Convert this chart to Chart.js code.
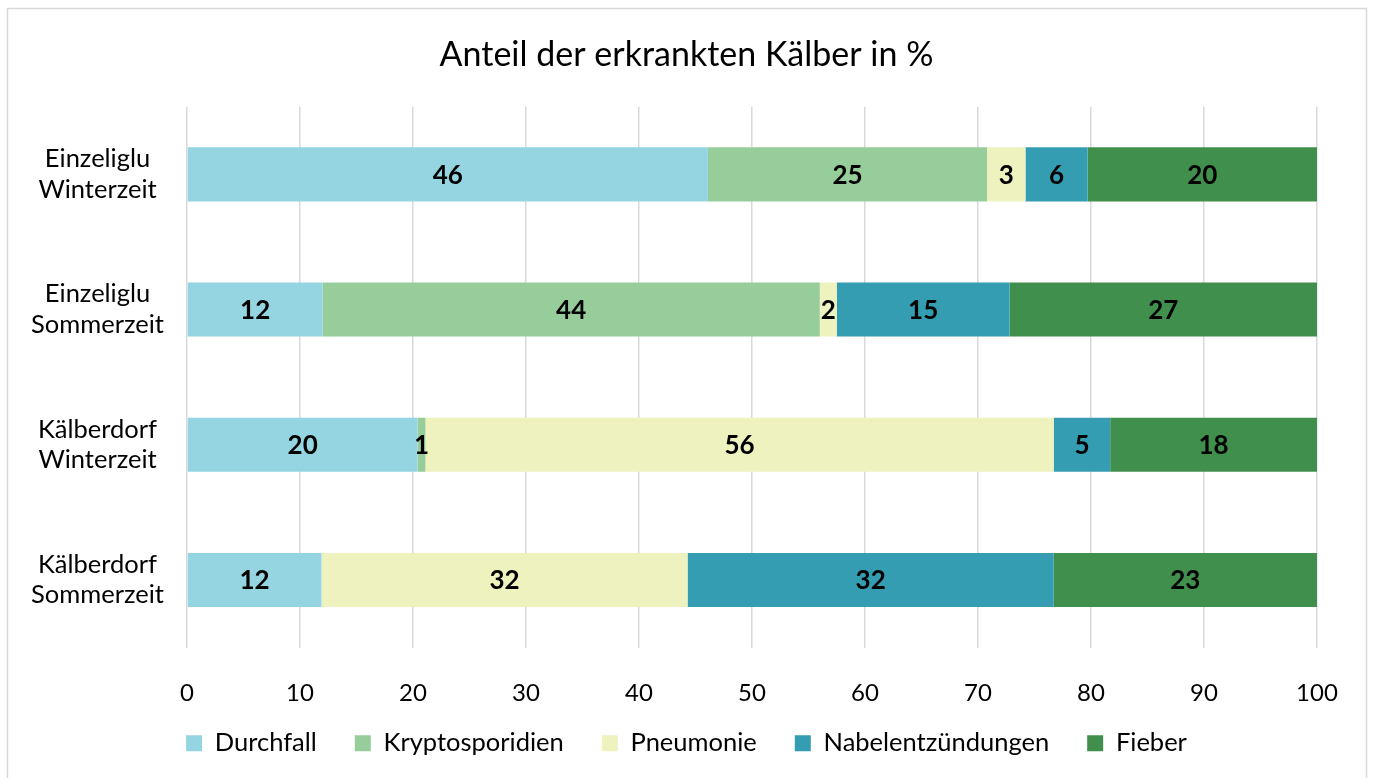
<!DOCTYPE html>
<html>
<head>
<meta charset="utf-8">
<script src="https://cdn.jsdelivr.net/npm/chart.js@4"></script>
<style>
  html, body { margin: 0; padding: 0; background: #fff; }
  #wrap { width: 1373px; height: 778px; position: relative; }
</style>
</head>
<body>
<div id="wrap"><canvas id="kaelberChart" width="1373" height="778"></canvas></div>
<script>
const categories = [
  ['Einzeliglu', 'Winterzeit'],
  ['Einzeliglu', 'Sommerzeit'],
  ['Kälberdorf', 'Winterzeit'],
  ['Kälberdorf', 'Sommerzeit']
];
const seriesNames = ['Durchfall', 'Kryptosporidien', 'Pneumonie', 'Nabelentzündungen', 'Fieber'];
const durchfall = [46.1, 12.0, 20.4, 11.9];
const kryptosporidien = [24.7, 44.0, 0.7, 0];
const pneumonie = [3.4, 1.5, 55.6, 32.4];
const nabelentzuendungen = [5.5, 15.3, 5.0, 32.4];
const fieber = [20.3, 27.2, 18.3, 23.3];
const xTicks = [0, 10, 20, 30, 40, 50, 60, 70, 80, 90, 100];

const seriesValues = [durchfall, kryptosporidien, pneumonie, nabelentzuendungen, fieber];
const seriesColors = ['#95d5e1', '#96cd9a', '#edf2bf', '#349db2', '#418f4d'];
const fontFamily = 'Lato, "Open Sans", sans-serif';

// draws the rounded numbers in the middle of each segment
const barLabels = {
  id: 'barLabels',
  afterDatasetsDraw(chart) {
    const ctx = chart.ctx;
    ctx.save();
    ctx.font = 'bold 26px ' + fontFamily;
    ctx.fillStyle = '#000';
    ctx.textAlign = 'center';
    ctx.textBaseline = 'middle';
    chart.data.datasets.forEach((ds, i) => {
      const meta = chart.getDatasetMeta(i);
      meta.data.forEach((bar, j) => {
        const v = ds.data[j];
        if (!v) return;
        const p = bar.getCenterPoint();
        ctx.fillText(String(Math.round(v)), p.x, p.y + 1);
      });
    });
    ctx.restore();
  }
};

// outer grey frame like the office chart border
const frame = {
  id: 'frame',
  beforeDraw(chart) {
    const ctx = chart.ctx;
    ctx.save();
    ctx.fillStyle = '#fff';
    ctx.fillRect(0, 0, chart.width, chart.height);
    ctx.strokeStyle = '#d9d9d9';
    ctx.lineWidth = 1.5;
    ctx.strokeRect(7.5, 8.5, 1359, 790);
    ctx.restore();
  }
};

// pull the legend up a bit, it sits closer to the tick labels in the original
const legendNudge = {
  id: 'legendNudge',
  afterLayout(chart) {
    chart.legend.top -= 17;
    chart.legend.bottom -= 17;
  }
};

new Chart(document.getElementById('kaelberChart'), {
  type: 'bar',
  data: {
    labels: categories,
    datasets: seriesNames.map((name, i) => ({
      label: name,
      data: seriesValues[i],
      backgroundColor: seriesColors[i],
      borderWidth: 0,
      categoryPercentage: 1,
      barPercentage: 0.4
    }))
  },
  options: {
    indexAxis: 'y',
    responsive: false,
    animation: false,
    layout: { padding: { left: 0, right: 0, top: 0, bottom: -5 } },
    scales: {
      x: {
        stacked: true,
        min: 0,
        max: 100,
        afterBuildTicks(scale) { scale.ticks = xTicks.map(v => ({ value: v })); },
        afterFit(scale) { scale.height = 62; },
        grid: { color: '#d9d9d9', lineWidth: 1.5, drawTicks: false },
        border: { display: false },
        ticks: { color: '#000', padding: 31, font: { family: fontFamily, size: 24 } }
      },
      y: {
        stacked: true,
        grid: { display: false },
        border: { display: false },
        afterFit(scale) { scale.width = 187; },
        ticks: { color: '#000', padding: 15, crossAlign: 'center', font: { family: fontFamily, size: 25.5, lineHeight: 1.2 } }
      },
      yRight: {
        type: 'category',
        position: 'right',
        grid: { display: false },
        border: { display: false },
        ticks: { display: false },
        afterFit(scale) { scale.width = 56; }
      }
    },
    plugins: {
      title: {
        display: true,
        text: 'Anteil der erkrankten Kälber in %',
        color: '#000',
        font: { family: fontFamily, size: 34, weight: 'normal', lineHeight: 1.2 },
        padding: { top: 35, bottom: 31 }
      },
      legend: {
        position: 'bottom',
        labels: {
          color: '#000',
          boxWidth: 16,
          boxHeight: 16,
          padding: 38,
          font: { family: fontFamily, size: 25.5 }
        }
      },
      tooltip: { enabled: false }
    }
  },
  plugins: [frame, legendNudge, barLabels]
});
</script>
</body>
</html>
